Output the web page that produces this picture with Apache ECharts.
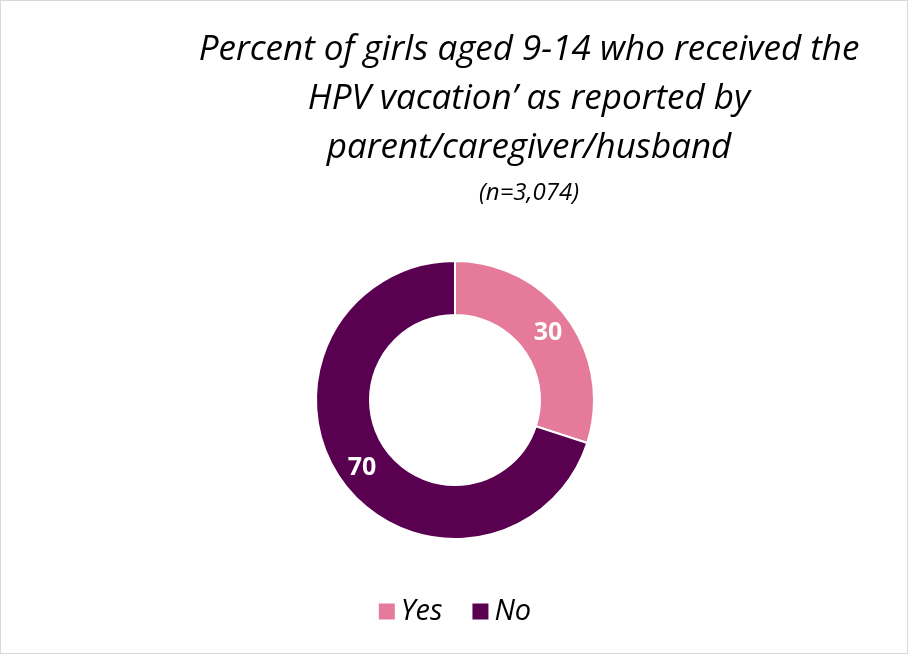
<!DOCTYPE html>
<html><head><meta charset="utf-8">
<script src="https://cdn.jsdelivr.net/npm/echarts@6/dist/echarts.min.js"></script>
<style>html,body{margin:0;padding:0;background:#fff}#c{width:906px;height:652px;border:1px solid #d9d9d9}</style>
</head><body><div id="c"></div>
<script>
const categories = ['Yes', 'No'];
const values = [30, 70];
const colors = ['#E57A9B', '#5A0050'];
const titleLines = ['Percent of girls aged 9-14 who received the', 'HPV vacation’ as reported by', 'parent/caregiver/husband'];
const subtitle = '(n=3,074)';
const chart = echarts.init(document.getElementById('c'));
chart.setOption({
  title: {
    text: titleLines.join('\n') + '\n{s|' + subtitle + '}',
    left: 523, top: 20, textAlign: 'center',
    textStyle: { fontFamily: 'Open Sans', fontStyle: 'italic', fontWeight: 'normal', fontSize: 35, lineHeight: 49, color: '#000',
      rich: { s: { fontSize: 24, fontStyle: 'italic', fontFamily: 'Open Sans', lineHeight: 40, color: '#000' } } }
  },
  legend: {
    bottom: 22, left: 'center', itemWidth: 18, itemHeight: 18, itemGap: 28, icon: 'rect',
    textStyle: { fontFamily: 'Open Sans', fontStyle: 'italic', fontSize: 29, color: '#000' }
  },
  series: [{
    type: 'pie', center: [454, 399], radius: [85, 139], startAngle: 90, clockwise: true,
    itemStyle: { borderColor: '#fff', borderWidth: 2 },
    label: { position: 'inside', formatter: '{c}', color: '#fff', fontWeight: 'bold', fontSize: 25, fontFamily: 'Open Sans' },
    labelLine: { show: false },
    data: categories.map((n, i) => ({ name: n, value: values[i], itemStyle: { color: colors[i] } }))
  }]
});
</script></body></html>
